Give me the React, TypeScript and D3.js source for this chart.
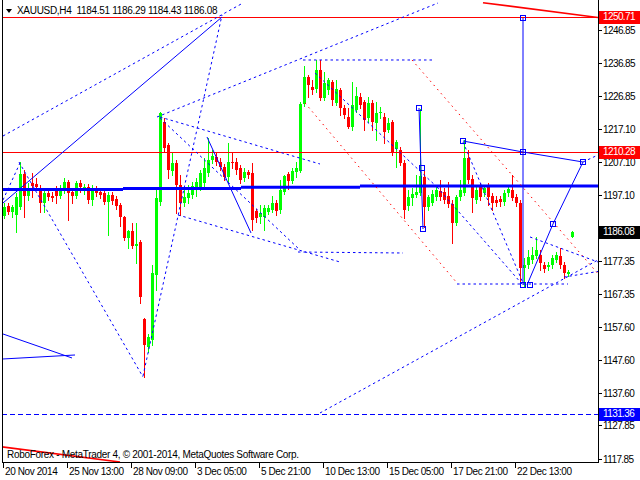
import React from 'react';
import * as d3 from 'd3';

// XAUUSD H4 bars (open, high, low, close)
const opens = [1190.89,1193.89,1192.09,1191.19,1193.59,1203.52,1196.90,1200.82,1200.51,1199.31,1194.80,1197.81,1196.90,1198.71,1196.90,1198.71,1201.12,1198.11,1196.90,1200.82,1198.41,1199.61,1195.70,1199.01,1198.11,1197.81,1195.10,1197.20,1196.00,1194.20,1190.58,1184.27,1186.37,1181.86,1183.06,1159.89,1151.47,1153.57,1173.13,1195.10,1219.17,1212.25,1204.43,1206.83,1200.21,1194.80,1196.30,1197.20,1198.71,1199.61,1200.82,1203.82,1207.74,1208.64,1207.13,1205.63,1202.62,1207.13,1207.13,1205.33,1202.32,1204.13,1203.82,1192.39,1190.58,1190.58,1192.09,1192.69,1194.80,1192.69,1198.11,1203.52,1201.42,1204.13,1204.43,1224.59,1232.71,1229.70,1229.10,1234.82,1226.39,1228.80,1231.21,1224.89,1228.80,1223.38,1220.67,1217.67,1222.78,1226.69,1225.19,1220.37,1224.89,1218.87,1221.88,1220.67,1216.76,1219.17,1211.05,1210.74,1206.83,1193.89,1196.30,1197.20,1197.81,1202.62,1193.59,1194.80,1196.60,1198.41,1198.11,1196.90,1194.50,1188.78,1196.60,1197.81,1208.34,1202.02,1195.70,1199.61,1197.81,1199.61,1196.90,1195.70,1196.00,1195.10,1197.81,1198.71,1196.60,1194.80,1175.24,1176.14,1177.65,1178.85,1179.15,1176.14,1175.54,1176.14,1177.65,1178.85,1176.14,1173.43,1184.51];
const highs = [1194.80,1194.80,1194.20,1197.81,1207.13,1204.73,1200.82,1203.82,1202.32,1200.21,1198.71,1198.71,1198.11,1199.91,1200.21,1202.32,1201.72,1199.31,1201.42,1201.72,1200.51,1200.51,1200.21,1199.91,1199.31,1198.71,1198.11,1198.11,1196.90,1194.80,1190.89,1186.67,1188.78,1188.78,1183.66,1160.19,1155.38,1176.14,1198.71,1222.18,1220.37,1212.85,1210.14,1207.74,1203.22,1198.71,1200.21,1201.12,1202.32,1204.73,1208.34,1214.36,1210.74,1209.84,1208.34,1206.53,1212.85,1210.14,1208.34,1206.23,1205.33,1204.73,1206.83,1192.99,1194.20,1194.20,1194.20,1196.90,1195.70,1201.72,1203.22,1204.13,1205.33,1207.13,1225.19,1236.02,1233.31,1231.81,1237.83,1237.83,1234.22,1232.41,1231.81,1231.81,1229.40,1224.29,1223.38,1231.21,1229.70,1227.90,1225.79,1226.69,1225.79,1225.19,1223.68,1221.88,1220.37,1219.77,1213.75,1211.65,1207.74,1198.71,1199.31,1203.22,1223.08,1204.73,1197.20,1198.71,1200.21,1201.72,1199.31,1201.12,1195.70,1197.20,1201.72,1213.75,1210.74,1203.22,1200.21,1200.82,1200.21,1200.82,1197.81,1196.90,1196.90,1198.71,1200.21,1203.22,1197.51,1195.70,1178.25,1180.65,1181.56,1184.57,1180.65,1177.04,1177.04,1179.15,1180.05,1181.26,1177.04,1174.64,1186.29];
const lows = [1190.28,1191.49,1190.58,1186.07,1192.99,1190.58,1195.70,1196.60,1198.71,1192.09,1192.09,1195.70,1195.40,1194.80,1196.30,1197.81,1189.68,1194.80,1196.30,1198.11,1197.51,1194.80,1194.20,1196.90,1196.30,1194.50,1185.17,1194.50,1192.99,1187.88,1183.66,1181.26,1181.26,1176.74,1164.71,1142.44,1149.96,1152.07,1168.62,1194.20,1210.14,1202.32,1203.22,1191.79,1191.19,1193.89,1194.80,1196.30,1196.90,1198.71,1199.91,1202.92,1206.83,1206.23,1204.73,1201.72,1200.82,1205.33,1203.52,1200.82,1201.42,1202.32,1186.67,1189.08,1188.78,1186.67,1191.49,1192.09,1191.19,1191.79,1197.51,1199.01,1200.82,1202.62,1204.13,1223.98,1226.69,1227.60,1228.20,1225.79,1225.79,1227.60,1224.29,1224.29,1221.28,1220.37,1217.36,1216.76,1222.18,1223.38,1216.76,1219.17,1216.76,1213.75,1220.37,1212.85,1216.16,1209.24,1205.63,1206.23,1190.28,1192.69,1194.20,1196.60,1197.20,1187.58,1192.69,1194.20,1195.70,1195.70,1194.80,1193.59,1182.76,1188.18,1195.70,1197.20,1200.82,1192.09,1194.80,1195.70,1196.90,1194.20,1192.69,1193.89,1193.89,1194.20,1196.90,1195.70,1193.89,1170.12,1169.52,1175.24,1176.74,1178.25,1174.64,1174.04,1174.64,1175.24,1177.04,1175.24,1172.23,1172.83,1184.43];
const closes = [1193.59,1192.09,1193.59,1196.60,1203.52,1196.90,1199.01,1199.91,1199.61,1194.80,1197.81,1196.60,1196.30,1196.90,1199.01,1201.12,1197.81,1196.90,1200.82,1199.61,1199.61,1195.70,1199.31,1197.81,1197.20,1195.10,1197.20,1195.40,1193.89,1190.58,1184.27,1186.37,1181.86,1182.46,1166.51,1152.07,1154.48,1173.73,1196.30,1221.88,1211.35,1204.73,1206.83,1200.21,1194.80,1196.60,1197.81,1199.91,1201.12,1203.82,1205.33,1207.74,1208.94,1207.13,1205.63,1202.62,1207.13,1206.83,1204.73,1201.72,1204.13,1203.22,1189.68,1190.28,1191.79,1193.29,1193.29,1194.80,1192.39,1198.71,1202.92,1201.42,1204.43,1205.33,1224.59,1232.71,1230.30,1228.80,1234.82,1226.39,1230.91,1231.81,1225.79,1229.10,1223.38,1221.28,1217.67,1224.29,1226.99,1224.29,1219.77,1224.89,1219.17,1221.88,1222.18,1216.16,1218.87,1210.14,1213.15,1206.83,1192.69,1196.60,1197.51,1198.11,1202.92,1193.59,1196.60,1197.51,1198.71,1196.60,1195.70,1194.50,1188.78,1196.60,1198.71,1208.34,1201.72,1196.30,1198.71,1196.60,1199.31,1196.60,1194.80,1194.80,1195.10,1197.81,1199.01,1196.30,1194.80,1175.24,1176.14,1178.55,1179.15,1180.65,1176.74,1174.94,1176.14,1178.25,1179.15,1176.14,1173.73,1174.04,1186.08];

const dateLabels = ['20 Nov 2014', '25 Nov 13:00', '28 Nov 09:00', '3 Dec 05:00', '5 Dec 21:00', '10 Dec 13:00', '15 Dec 05:00', '17 Dec 21:00', '22 Dec 13:00'];
const dateLabelBars = [0, 16, 32, 48, 64, 80, 96, 112, 128];
const priceTicks = [1246.85, 1236.85, 1226.85, 1217.10, 1207.10, 1197.10, 1187.35, 1177.35, 1167.35, 1157.60, 1147.60, 1137.60, 1127.85, 1117.85];

// horizontal levels across the whole chart
const redLevels = [1250.71, 1210.28];
const blueLevel = 1131.36;
const lastPrice = 1186.08;

// weekly level (thick blue step line): [fromBar, toBar, price]
const weeklySteps = [
  [-0.5, 29.75, 1198.86],
  [29.75, 59.25, 1199.19],
  [59.25, 89, 1199.52],
  [89, 149, 1199.91],
];

// drawn objects: [bar1, price1, bar2, price2]
const redTrend = [
  [119.75, 1255.07, 148.5, 1250.6],
  [-0.5, 1121.4, 29, 1116.86],
];
const redDotted = [
  [75.25, 1224.89, 113.25, 1170.73],
  [102, 1237.83, 148.5, 1173.5],
];
const blueDashed = [
  [-0.25, 1214.96, 59.75, 1254.98],
  [38.25, 1220.67, 108.5, 1254.98],
  [34.75, 1142.74, 54.5, 1251.37],
  [3.75, 1207.13, 34.75, 1142.44],
  [39, 1220.67, 79, 1206.53],
  [39, 1220.37, 74, 1180.65],
  [43.5, 1191.19, 84, 1177.04],
  [73.5, 1180.05, 99.75, 1179.75],
  [79, 1131.61, 148.5, 1177.65],
  [74.75, 1237.83, 107, 1237.83],
  [113.25, 1170.42, 141, 1170.42],
  [77.75, 1233.91, 108.25, 1199.61],
  [108.25, 1199.61, 129.5, 1170.42],
  [114.75, 1213.15, 129.75, 1170.73],
  [131.5, 1184.57, 148.5, 1177.04],
  [140, 1172.5, 148.5, 1174.2],
  [-0.25, 1195.70, 4, 1206.83],
  [144.75, 1207.13, 148.5, 1209.24],
];
const blueSolid = [
  [-0.25, 1194.80, 54.5, 1250.76],
  [50.75, 1214.66, 61.75, 1185.77],
  [-0.25, 1155.38, 17, 1148.16],
  [-0.25, 1147.86, 17.75, 1149.06],
  [103.75, 1223.38, 104.75, 1186.97],
  [114.75, 1213.45, 129.75, 1210.14],
  [129.75, 1210.14, 144.75, 1207.13],
  [129.75, 1250.46, 129.75, 1170.12],
  [130.75, 1170.12, 137.25, 1188.48],
  [137.25, 1188.48, 144.75, 1207.13],
];
const squareMarks = [
  [103.75, 1223.38], [104.5, 1205.2], [104.75, 1186.97],
  [114.75, 1213.45], [129.75, 1210.14], [144.75, 1207.13],
  [129.75, 1250.46], [129.75, 1170.12], [131.5, 1170.12], [137.25, 1188.48],
];

const W = 640;
const H = 480;
const plot = { left: 2, right: 598, top: 0, bottom: 462 };
const FONT = '"Liberation Sans", Arial, sans-serif';

export default function App() {
  const x = d3.scaleLinear().domain([0, 142]).range([4, 572]);
  const y = d3.scaleLinear().domain([1116.86, 1255.88]).range([plot.bottom, plot.top]);

  const seg = (d: number[], i: number, stroke: string, extra: any = {}) => (
    <line key={i} x1={x(d[0])} y1={y(d[1])} x2={x(d[2])} y2={y(d[3])} stroke={stroke} strokeWidth={1} {...extra} />
  );

  const boxPrices = [redLevels[0], redLevels[1], lastPrice, blueLevel];
  // tick labels hidden under a price box are not drawn (as in the terminal)
  const visibleTicks = priceTicks.filter(p => boxPrices.every(b => Math.abs(y(p) - y(b)) > 8));

  const priceBox = (p: number, bg: string) => (
    <g key={'box' + p}>
      <rect x={599} y={Math.round(y(p)) - 6} width={41} height={13} fill={bg} />
      <text x={603} y={Math.round(y(p)) + 3} fill="#fff" fontSize={10} fontFamily={FONT} letterSpacing={-0.6}>{p.toFixed(2)}</text>
    </g>
  );

  return (
    <svg width={W} height={H} style={{ position: 'absolute', left: 0, top: 0, background: '#fff' }}>
      <rect width={W} height={H} fill="#fff" />
      <defs>
        <clipPath id="plotClip">
          <rect x={plot.left} y={plot.top} width={plot.right - plot.left} height={plot.bottom - plot.top} />
        </clipPath>
      </defs>

      <g clipPath="url(#plotClip)">
        {closes.map((c, i) => {
          const up = c >= opens[i];
          const col = up ? '#00ff00' : '#ff0000';
          const cx = Math.round(x(i));
          const top = Math.round(y(Math.max(opens[i], c)));
          const bot = Math.round(y(Math.min(opens[i], c)));
          return (
            <g key={i} shapeRendering="crispEdges">
              <line x1={cx + 0.5} x2={cx + 0.5} y1={Math.round(y(highs[i]))} y2={Math.round(y(lows[i])) + 1} stroke={col} />
              <rect x={cx - 1} y={top} width={3} height={Math.max(1, bot - top)} fill={col} />
            </g>
          );
        })}

        {redLevels.map(p => (
          <line key={p} x1={plot.left} x2={plot.right} y1={Math.round(y(p)) + 0.5} y2={Math.round(y(p)) + 0.5} stroke="#ff0000" />
        ))}
        <line x1={plot.left} x2={plot.right} y1={Math.round(y(blueLevel)) + 0.5} y2={Math.round(y(blueLevel)) + 0.5} stroke="#0000ff" strokeDasharray="5,3" />
        {weeklySteps.map((s, i) => (
          <line key={i} x1={x(s[0])} x2={x(s[1])} y1={y(s[2])} y2={y(s[2])} stroke="#0000ff" strokeWidth={3} />
        ))}
        {redTrend.map((d, i) => seg(d, i, '#ff0000', { strokeWidth: 1.6 }))}
        {redDotted.map((d, i) => seg(d, i, '#ff0000', { strokeDasharray: '1.5,4' }))}
        {blueDashed.map((d, i) => seg(d, i, '#0000ff', { strokeDasharray: '2.5,3' }))}
        {blueSolid.map((d, i) => seg(d, i, '#0000ff'))}
        {squareMarks.map((d, i) => (
          <rect key={i} x={Math.round(x(d[0])) - 2.5} y={Math.round(y(d[1])) - 2.5} width={5} height={5} fill="none" stroke="#0000ff" />
        ))}
      </g>

      {/* frame */}
      <g shapeRendering="crispEdges">
        <line x1={plot.left + 0.5} x2={plot.left + 0.5} y1={0} y2={plot.bottom + 1} stroke="#000" />
        <line x1={plot.right + 0.5} x2={plot.right + 0.5} y1={0} y2={plot.bottom + 1} stroke="#000" />
        <line x1={plot.left} x2={plot.right + 1} y1={plot.bottom + 0.5} y2={plot.bottom + 0.5} stroke="#000" />
        {priceTicks.map(p => (
          <line key={p} x1={plot.right} x2={plot.right + 4} y1={Math.round(y(p)) + 0.5} y2={Math.round(y(p)) + 0.5} stroke="#000" />
        ))}
        {dateLabelBars.map(b => (
          <line key={b} x1={Math.round(x(b)) - 0.5} x2={Math.round(x(b)) - 0.5} y1={plot.bottom} y2={plot.bottom + 6} stroke="#000" />
        ))}
      </g>

      {visibleTicks.map(p => (
        <text key={p} x={603} y={Math.round(y(p)) + 4} fontSize={10} fontFamily={FONT} letterSpacing={-0.6} fill="#000">{p.toFixed(2)}</text>
      ))}
      {dateLabels.map((t, i) => (
        <text key={t} x={Math.round(x(dateLabelBars[i])) + 1} y={475} fontSize={10} fontFamily={FONT} letterSpacing={-0.4} fill="#000">{t}</text>
      ))}

      {priceBox(redLevels[0], '#ff0000')}
      {priceBox(redLevels[1], '#ff0000')}
      {priceBox(lastPrice, '#000000')}
      {priceBox(blueLevel, '#0000ff')}

      <path d="M6,9 L12,9 L9,13 Z" fill="#000" />
      <text x={17} y={14} fontSize={10} fontFamily={FONT} letterSpacing={-0.3} fill="#000" style={{ whiteSpace: 'pre' }}>
        {`XAUUSD,H4  ${opens[142].toFixed(2)} ${highs[142].toFixed(2)} ${lows[142].toFixed(2)} ${closes[142].toFixed(2)}`}
      </text>
      <text x={7} y={458} fontSize={10} fontFamily={FONT} letterSpacing={-0.3} fill="#000">
        RoboForex - MetaTrader 4, © 2001-2014, MetaQuotes Software Corp.
      </text>
    </svg>
  );
}
